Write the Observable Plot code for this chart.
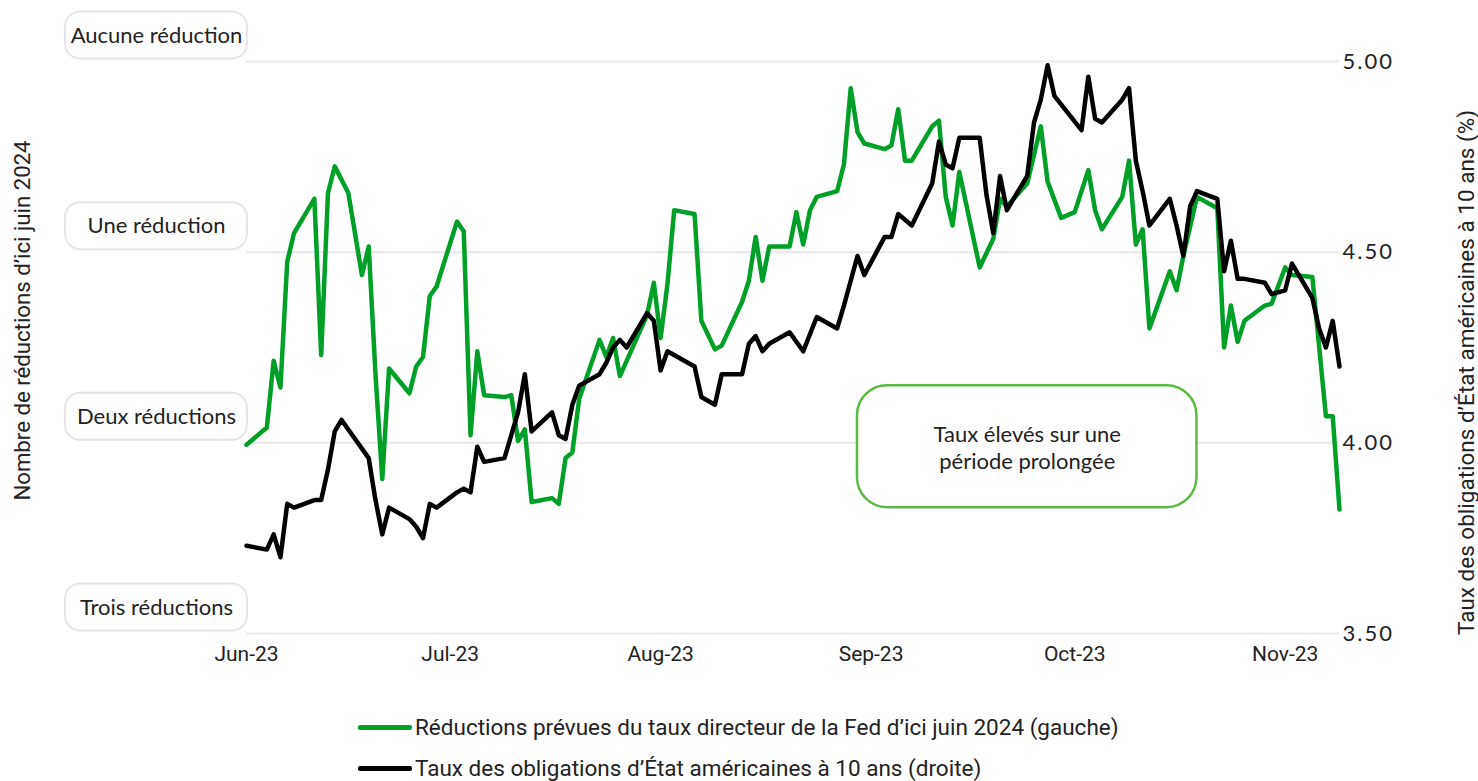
<!DOCTYPE html>
<html>
<head>
<meta charset="utf-8">
<script src="https://cdn.jsdelivr.net/npm/d3@7"></script>
<script src="https://cdn.jsdelivr.net/npm/@observablehq/plot@0.6"></script>
<style>
  html, body { margin: 0; padding: 0; background: #fff; overflow: hidden; }
  #wrap { position: relative; width: 1478px; height: 781px; }
  .legend { position: absolute; left: 358px; font-family: Roboto, sans-serif; font-size: 22.5px; line-height: 26px; color: #222; display: flex; align-items: center; white-space: nowrap; }
  .legend .sw { width: 54px; height: 5px; border-radius: 2px; margin-right: 3px; }
</style>
</head>
<body>
<div id="wrap"></div>
<script>
// ---- Data ----
// Expected Fed rate cuts by June 2024 (left axis, number of cuts)
const greenDates = ["2023-06-01","2023-06-04","2023-06-05","2023-06-06","2023-06-07","2023-06-08","2023-06-11","2023-06-12","2023-06-13","2023-06-14","2023-06-16","2023-06-18","2023-06-19","2023-06-20","2023-06-21","2023-06-22","2023-06-25","2023-06-26","2023-06-27","2023-06-28","2023-06-29","2023-07-02","2023-07-03","2023-07-04","2023-07-05","2023-07-06","2023-07-09","2023-07-10","2023-07-11","2023-07-12","2023-07-13","2023-07-16","2023-07-17","2023-07-18","2023-07-19","2023-07-20","2023-07-23","2023-07-24","2023-07-25","2023-07-26","2023-07-30","2023-07-31","2023-08-01","2023-08-02","2023-08-03","2023-08-06","2023-08-07","2023-08-09","2023-08-10","2023-08-13","2023-08-14","2023-08-15","2023-08-16","2023-08-17","2023-08-20","2023-08-21","2023-08-22","2023-08-23","2023-08-24","2023-08-27","2023-08-28","2023-08-29","2023-08-30","2023-08-31","2023-09-03","2023-09-04","2023-09-05","2023-09-06","2023-09-07","2023-09-10","2023-09-11","2023-09-12","2023-09-13","2023-09-14","2023-09-17","2023-09-19","2023-09-20","2023-09-21","2023-09-24","2023-09-26","2023-09-27","2023-09-29","2023-10-01","2023-10-03","2023-10-04","2023-10-05","2023-10-08","2023-10-09","2023-10-10","2023-10-11","2023-10-12","2023-10-15","2023-10-16","2023-10-17","2023-10-19","2023-10-22","2023-10-23","2023-10-24","2023-10-25","2023-10-26","2023-10-29","2023-10-30","2023-11-01","2023-11-02","2023-11-05","2023-11-07","2023-11-08","2023-11-09"];
const greenCuts = [2.01,1.92,1.57,1.71,1.05,0.90,0.72,1.54,0.69,0.55,0.69,1.12,0.97,1.64,2.19,1.61,1.74,1.60,1.55,1.23,1.18,0.84,0.89,1.96,1.52,1.75,1.76,1.75,1.99,1.93,2.31,2.29,2.32,2.08,2.05,1.77,1.46,1.55,1.45,1.65,1.33,1.16,1.45,1.17,0.78,0.80,1.36,1.51,1.49,1.26,1.15,0.92,1.15,0.97,0.97,0.79,0.96,0.78,0.71,0.68,0.54,0.14,0.37,0.43,0.46,0.44,0.25,0.52,0.52,0.34,0.31,0.71,0.86,0.58,1.08,0.93,0.72,0.76,0.64,0.34,0.63,0.82,0.79,0.57,0.78,0.88,0.71,0.52,0.96,0.88,1.40,1.10,1.20,1.02,0.71,0.77,1.50,1.28,1.47,1.36,1.28,1.27,1.08,1.12,1.13,1.86,1.86,2.35];

// US 10-year Treasury yield (right axis, %)
const blackDates = ["2023-06-01","2023-06-04","2023-06-05","2023-06-06","2023-06-07","2023-06-08","2023-06-11","2023-06-12","2023-06-13","2023-06-14","2023-06-15","2023-06-19","2023-06-20","2023-06-21","2023-06-22","2023-06-25","2023-06-26","2023-06-27","2023-06-28","2023-06-29","2023-07-02","2023-07-03","2023-07-04","2023-07-05","2023-07-06","2023-07-09","2023-07-10","2023-07-11","2023-07-12","2023-07-13","2023-07-16","2023-07-17","2023-07-18","2023-07-19","2023-07-20","2023-07-23","2023-07-24","2023-07-25","2023-07-26","2023-07-27","2023-07-30","2023-07-31","2023-08-01","2023-08-02","2023-08-06","2023-08-07","2023-08-09","2023-08-10","2023-08-13","2023-08-14","2023-08-15","2023-08-16","2023-08-17","2023-08-20","2023-08-22","2023-08-24","2023-08-27","2023-08-28","2023-08-30","2023-08-31","2023-09-03","2023-09-04","2023-09-05","2023-09-07","2023-09-10","2023-09-11","2023-09-12","2023-09-13","2023-09-14","2023-09-17","2023-09-18","2023-09-19","2023-09-20","2023-09-21","2023-09-24","2023-09-25","2023-09-26","2023-09-27","2023-09-28","2023-10-02","2023-10-03","2023-10-04","2023-10-05","2023-10-08","2023-10-09","2023-10-10","2023-10-11","2023-10-12","2023-10-15","2023-10-16","2023-10-17","2023-10-18","2023-10-19","2023-10-22","2023-10-23","2023-10-24","2023-10-25","2023-10-26","2023-10-29","2023-10-30","2023-11-01","2023-11-02","2023-11-05","2023-11-06","2023-11-07","2023-11-08","2023-11-09"];
const blackYield = [3.73,3.72,3.76,3.70,3.84,3.83,3.85,3.85,3.93,4.03,4.06,3.96,3.85,3.76,3.83,3.80,3.78,3.75,3.84,3.83,3.87,3.88,3.87,3.99,3.95,3.96,4.02,4.08,4.18,4.03,4.08,4.02,4.01,4.10,4.15,4.18,4.21,4.25,4.27,4.25,4.34,4.32,4.19,4.24,4.20,4.12,4.10,4.18,4.18,4.26,4.28,4.24,4.26,4.29,4.24,4.33,4.30,4.36,4.49,4.44,4.54,4.54,4.60,4.57,4.68,4.79,4.73,4.72,4.80,4.80,4.65,4.55,4.70,4.61,4.70,4.84,4.90,4.99,4.91,4.82,4.96,4.85,4.84,4.90,4.93,4.74,4.66,4.57,4.64,4.57,4.49,4.62,4.66,4.64,4.45,4.53,4.43,4.43,4.42,4.39,4.40,4.47,4.38,4.30,4.25,4.32,4.20];

const leftLabels = ["Aucune réduction", "Une réduction", "Deux réductions", "Trois réductions"];
const rightTicks = [3.5, 4.0, 4.5, 5.0];
const monthTicks = ["2023-06-01","2023-07-01","2023-08-01","2023-09-01","2023-10-01","2023-11-01"];
const seriesNames = ["Réductions prévues du taux directeur de la Fed d’ici juin 2024 (gauche)", "Taux des obligations d’État américaines à 10 ans (droite)"];
const leftTitle = "Nombre de réductions d’ici juin 2024";
const rightTitle = "Taux des obligations d’État américaines à 10 ans (%)";
const noteText = "Taux élevés sur une\npériode prolongée";
const noteBox = {x1: "2023-08-30", x2: "2023-10-19", y1: 4.15, y2: 3.83, tx: "2023-09-24", ty: 3.989};

// ---- Build tables ----
const parse = d3.utcParse("%Y-%m-%d");
// left axis: 0 cuts at 5.00, each cut = 0.50 on the right scale
const cutsToRight = c => 5 - c * 0.5;
const green = greenDates.map((d, i) => ({date: parse(d), cuts: greenCuts[i]}));
const black = blackDates.map((d, i) => ({date: parse(d), y: blackYield[i]}));

const GREEN = "#00a028";
const geo = "Lato, 'Open Sans', sans-serif";
const narrow = "Roboto, sans-serif";

const chart = Plot.plot({
  width: 1478,
  height: 700,
  marginLeft: 246,
  marginRight: 139,
  marginTop: 61,
  marginBottom: 67,
  style: {background: "#fff", fontFamily: geo, color: "#222", overflow: "visible"},
  x: {type: "utc", domain: [parse("2023-06-01"), parse("2023-11-09")]},
  y: {domain: [3.5, 5.0]},
  marks: [
    Plot.gridY(rightTicks, {stroke: "#e8e8e8", strokeOpacity: 1, strokeWidth: 2}),
    Plot.axisY(rightTicks, {anchor: "right", tickSize: 0, tickPadding: 3, tickFormat: d3.format(".2f"), fontSize: 22, fontFamily: geo, fill: "#222", label: null}),
    Plot.axisX(monthTicks.map(parse), {anchor: "bottom", tickSize: 0, tickPadding: 13, tickFormat: d3.utcFormat("%b-%y"), fontSize: 21, fontFamily: narrow, fill: "#222", label: null}),
    Plot.text(leftLabels, {y: (d, i) => cutsToRight(i), text: d => d, frameAnchor: "left", textAnchor: "middle", dx: -90, dy: -26, fontSize: 22, fontFamily: geo, fill: "#222"}),
    Plot.text([leftTitle], {frameAnchor: "left", textAnchor: "middle", lineAnchor: "middle", dx: -224, dy: -27, rotate: -90, text: d => d, fontSize: 22.2, fontFamily: narrow, fill: "#222"}),
    Plot.text([rightTitle], {frameAnchor: "right", textAnchor: "middle", lineAnchor: "middle", dx: 127, dy: 25, rotate: -90, text: d => d, fontSize: 22.5, fontFamily: narrow, fill: "#222"}),
    Plot.rect([noteBox], {x1: d => parse(d.x1), x2: d => parse(d.x2), y1: "y1", y2: "y2", rx: 30, fill: "#fff", stroke: "#5cb946", strokeWidth: 2.5}),
    Plot.text([noteBox], {x: d => parse(d.tx), y: "ty", text: () => noteText, fontSize: 22, lineHeight: 1.23, fontFamily: geo, fill: "#222"}),
    Plot.line(green, {x: "date", y: d => cutsToRight(d.cuts), stroke: GREEN, strokeWidth: 4.5, strokeLinejoin: "round", strokeLinecap: "round"}),
    Plot.line(black, {x: "date", y: "y", stroke: "#000", strokeWidth: 4.5, strokeLinejoin: "round", strokeLinecap: "round"})
  ]
});

// wider digit spacing on the right-axis numbers
d3.select(chart).selectAll('g[aria-label="y-axis tick label"] text').style("letter-spacing", "2px");

// rounded boxes behind the left-axis category labels
const ys = chart.scale("y");
const boxes = d3.select(chart).insert("g", ":first-child");
leftLabels.forEach((lab, i) => {
  const yc = ys.apply(cutsToRight(i)) - 26;
  boxes.append("rect").attr("x", 65).attr("y", yc - 23.5).attr("width", 182).attr("height", 47)
    .attr("rx", 15).attr("fill", "#fff").attr("stroke", "#e6e6e6").attr("stroke-width", 2);
});

const wrap = document.getElementById("wrap");
wrap.appendChild(chart);

// legend
[[GREEN, seriesNames[0], 727], ["#000", seriesNames[1], 768]].forEach(([c, t, y]) => {
  const row = document.createElement("div");
  row.className = "legend";
  row.style.top = (y - 13) + "px";
  row.style.height = "26px";
  const sw = document.createElement("span");
  sw.className = "sw"; sw.style.background = c;
  const tx = document.createElement("span");
  tx.textContent = t;
  row.appendChild(sw); row.appendChild(tx);
  wrap.appendChild(row);
});
</script>
</body>
</html>
